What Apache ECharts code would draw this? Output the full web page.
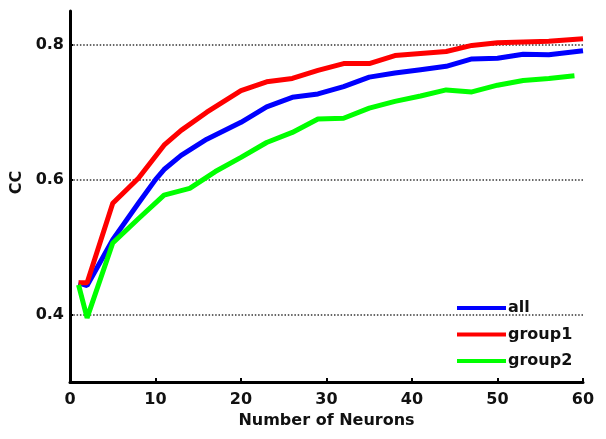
<!DOCTYPE html>
<html>
<head>
<meta charset="utf-8">
<script src="https://cdn.jsdelivr.net/npm/echarts@6/dist/echarts.min.js"></script>
<style>
html,body{margin:0;padding:0;background:#fff;}
#chart{width:606px;height:439px;}
</style>
</head>
<body>
<div id="chart"></div>
<script>
var seriesNames = ['all', 'group1', 'group2'];
var xAll = [1, 2, 5, 8, 10, 11, 13, 16, 20, 23, 26, 29, 32, 35, 38, 41, 44, 47, 50, 53, 56, 60];
var yAll = [0.447, 0.443, 0.511, 0.565, 0.600, 0.615, 0.636, 0.660, 0.685, 0.708, 0.722, 0.727, 0.738, 0.752, 0.758, 0.763, 0.768, 0.779, 0.780, 0.786, 0.785, 0.791];
var xGroup1 = [1, 2, 5, 8, 11, 13, 16, 20, 23, 26, 29, 32, 35, 38, 41, 44, 47, 50, 53, 56, 60];
var yGroup1 = [0.447, 0.447, 0.565, 0.602, 0.651, 0.673, 0.700, 0.732, 0.745, 0.750, 0.762, 0.772, 0.772, 0.784, 0.787, 0.790, 0.799, 0.803, 0.804, 0.805, 0.809];
var xGroup2 = [1, 2, 5, 8, 11, 14, 17, 20, 23, 26, 29, 32, 35, 38, 41, 44, 47, 50, 53, 56, 59];
var yGroup2 = [0.444, 0.395, 0.506, 0.542, 0.577, 0.587, 0.612, 0.633, 0.655, 0.670, 0.690, 0.691, 0.706, 0.716, 0.724, 0.733, 0.730, 0.740, 0.747, 0.750, 0.754];
var yTicks = [0.4, 0.6, 0.8];
var colors = ['#0000ff', '#ff0000', '#00ff00'];

function zip(xs, ys) { return xs.map(function (x, i) { return [x, ys[i]]; }); }

var font = 'DejaVu Sans, sans-serif';
var txt = {fontFamily: font, fontSize: 16, fontWeight: 'bold', color: '#111'};
function withExtra(o) { return Object.assign({}, txt, o || {}); }

var chart = echarts.init(document.getElementById('chart'), null, {renderer: 'canvas'});
chart.setOption({
  animation: false,
  backgroundColor: '#fff',
  grid: {left: 70, right: 23, top: 11, bottom: 57},
  legend: {
    orient: 'vertical', left: 452, top: 295,
    itemWidth: 49, itemHeight: 4, itemGap: 10.5, icon: 'rect',
    data: seriesNames,
    textStyle: withExtra({padding: [0, 0, 0, -3]})
  },
  xAxis: {
    type: 'value', min: 0, max: 60, interval: 10,
    name: 'Number of Neurons', nameLocation: 'middle', nameGap: 26,
    nameTextStyle: withExtra(),
    axisLine: {lineStyle: {color: '#000', width: 3}},
    axisTick: {show: true, inside: true, length: 4, lineStyle: {color: '#000', width: 2}},
    axisLabel: withExtra({margin: 10}),
    splitLine: {show: false}
  },
  yAxis: {
    type: 'value', min: 0.3, max: 0.85,
    name: 'CC', nameLocation: 'middle', nameGap: 42, nameRotate: 90,
    nameTextStyle: withExtra({padding: [0, 0, 0, 28]}),
    axisLine: {lineStyle: {color: '#000', width: 3}},
    axisTick: {show: true, inside: true, length: 3, customValues: yTicks, lineStyle: {color: '#000', width: 2}},
    axisLabel: withExtra({margin: 6, customValues: yTicks,
      formatter: function (v) { return v.toFixed(1); }}),
    splitLine: {show: true, lineStyle: {color: '#666', width: 2, type: [1.5, 1.8]}}
  },
  series: [
    {name: seriesNames[0], type: 'line', data: zip(xAll, yAll), showSymbol: false, symbol: 'none',
     lineStyle: {color: colors[0], width: 5}, itemStyle: {color: colors[0]}},
    {name: seriesNames[1], type: 'line', data: zip(xGroup1, yGroup1), showSymbol: false, symbol: 'none',
     lineStyle: {color: colors[1], width: 5}, itemStyle: {color: colors[1]}},
    {name: seriesNames[2], type: 'line', data: zip(xGroup2, yGroup2), showSymbol: false, symbol: 'none',
     lineStyle: {color: colors[2], width: 5}, itemStyle: {color: colors[2]}}
  ]
});
</script>
</body>
</html>
